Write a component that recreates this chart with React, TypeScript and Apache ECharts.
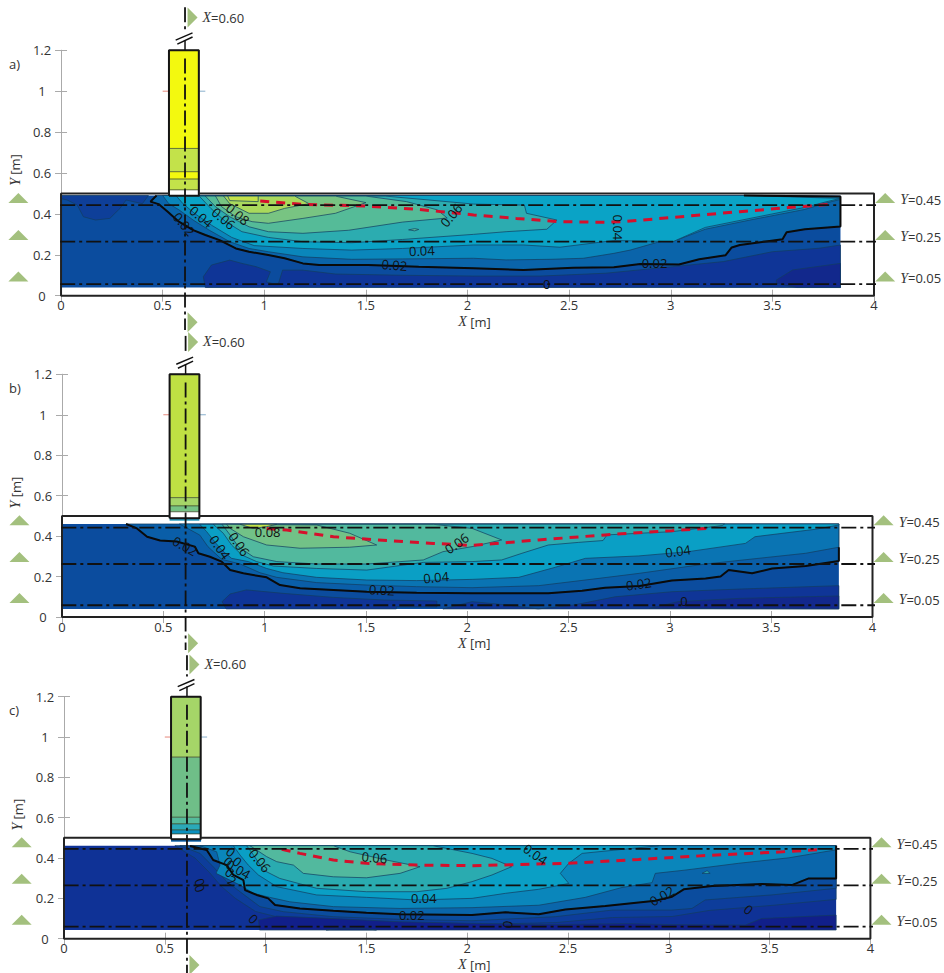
import React, { useEffect, useRef } from "react";
import * as echarts from "echarts";

type P = number[][];
const FONT = '"Open Sans", "Noto Sans", sans-serif';

// shared axis and section values
const xTicks = { min: 0, max: 4, interval: 0.5 };
const yTicks = { min: 0, max: 1.2, interval: 0.2 };
const sectionNames = ["0.45", "0.25", "0.05"];
const triLeftX = -0.21;
const triRightX = 4.055;
const triY = [0.478, 0.297, 0.094];
const triXUp = [0.647, 1.36];
const triXDown = [0.647, -0.13];
const breakA: P = [[0.564, 1.25], [0.647, 1.285]];
const breakB: P = [[0.572, 1.23], [0.647, 1.265]];
const breakStem: P = [[0.61, 1.2], [0.61, 1.25]];
const edgeMarkRed: P = [[0.5, 1], [0.53, 1]];
const edgeMarkBlue: P = [[0.68, 1], [0.71, 1]];
const tank: P = [[0.531, 0.5], [0, 0.5], [0, 0], [4, 0], [4, 0.5], [0.678, 0.5]];
const columnX = [0.531, 0.678];

// ---------- panel a ----------
const aDomain = [0, 3.835, 0.04, 0.49];
const aSections = [0.443, 0.264, 0.057];
const aColumnY = [1.2, 0.72, 0.606, 0.57, 0.517, 0.489];
const aColumnC = ["#f3f90f", "#c3e24a", "#f3f90f", "#c3e24a", "#ffffff"];
const aDarkTop: P = [[0, 0.49], [0.43, 0.49], [0.4, 0.45], [0.32, 0.468], [0.29, 0.427], [0.24, 0.378], [0.17, 0.37], [0.11, 0.386], [0.08, 0.443], [0.03, 0.468], [0, 0.475]];
const aDarkBottom: P = [[0.71, 0.04], [0.7, 0.093], [0.74, 0.15], [0.83, 0.174], [0.89, 0.158], [0.96, 0.142], [1.03, 0.117], [1.01, 0.068], [1.04, 0.06], [1.07, 0.06], [1.09, 0.125], [1.19, 0.125], [1.35, 0.106], [1.68, 0.1], [2.03, 0.096], [2.36, 0.096], [2.68, 0.11], [3.01, 0.142], [3.26, 0.167], [3.5, 0.215], [3.73, 0.232], [3.835, 0.248], [3.835, 0.04]];
const aDarkest: P = [[3.52, 0.077], [3.6, 0.126], [3.835, 0.158], [3.835, 0.04], [3.62, 0.04], [3.52, 0.06]];
const a002: P = [[0.47, 0.49], [0.44, 0.46], [0.48, 0.448], [0.525, 0.41], [0.58, 0.362], [0.65, 0.321], [0.71, 0.297], [0.78, 0.272], [0.86, 0.231], [0.925, 0.215], [1.02, 0.199], [1.1, 0.183], [1.19, 0.158], [1.27, 0.15], [1.51, 0.15], [1.76, 0.142], [2.03, 0.134], [2.275, 0.126], [2.52, 0.137], [2.72, 0.139], [2.85, 0.155], [3.04, 0.153], [3.14, 0.178], [3.27, 0.198], [3.3, 0.236], [3.34, 0.248], [3.55, 0.276], [3.57, 0.31], [3.66, 0.325], [3.835, 0.338], [3.835, 0.485], [3.36, 0.49]];
const aB: P = [[0.5, 0.49], [0.53, 0.45], [0.58, 0.42], [0.65, 0.37], [0.73, 0.32], [0.83, 0.264], [0.925, 0.231], [1.02, 0.215], [1.19, 0.19], [1.43, 0.178], [1.68, 0.18], [2.03, 0.183], [2.19, 0.175], [2.41, 0.178], [2.57, 0.183], [2.72, 0.207], [2.8, 0.223], [2.945, 0.264], [3.04, 0.276], [3.17, 0.325], [3.39, 0.37], [3.66, 0.422], [3.76, 0.452], [3.835, 0.471], [3.835, 0.485], [3.36, 0.49]];
const aC: P = [[0.565, 0.49], [0.6, 0.45], [0.66, 0.4], [0.74, 0.345], [0.84, 0.285], [0.95, 0.245], [1.19, 0.231], [1.43, 0.223], [1.68, 0.231], [2.03, 0.248], [2.275, 0.248], [2.455, 0.237], [2.72, 0.27], [3.01, 0.264], [3.17, 0.334], [3.39, 0.378], [3.66, 0.432], [3.76, 0.458], [3.835, 0.476], [3.36, 0.49]];
const aD: P = [[0.68, 0.487], [0.737, 0.427], [0.81, 0.362], [0.89, 0.313], [1.02, 0.285], [1.19, 0.264], [1.43, 0.259], [1.68, 0.275], [2.03, 0.3], [2.19, 0.313], [2.39, 0.325], [2.44, 0.37], [2.29, 0.403], [2.28, 0.443], [2.03, 0.448], [1.81, 0.468], [1.595, 0.487]];
const aE: P = [[0.71, 0.487], [0.76, 0.435], [0.83, 0.386], [0.925, 0.337], [1.02, 0.313], [1.19, 0.305], [1.415, 0.32], [1.68, 0.36], [1.9, 0.38], [1.85, 0.42], [1.7, 0.46], [1.5, 0.487]];
const aF: P = [[0.76, 0.487], [0.79, 0.435], [0.86, 0.386], [0.94, 0.362], [1.02, 0.354], [1.19, 0.378], [1.35, 0.403], [1.5, 0.455], [1.35, 0.487]];
const aG: P = [[0.8, 0.487], [0.83, 0.45], [0.925, 0.403], [1.02, 0.403], [1.1, 0.427], [1.22, 0.45], [1.15, 0.487]];
const aH: P = [[0.82, 0.487], [0.83, 0.465], [0.97, 0.46], [0.97, 0.487]];
const aIsland: P = [[1.71, 0.322], [1.74, 0.328], [1.76, 0.324], [1.74, 0.317]];
const aRed: P = [[0.98, 0.463], [1.19, 0.447], [1.51, 0.438], [1.76, 0.422], [2.03, 0.395], [2.24, 0.378], [2.45, 0.362], [2.68, 0.359], [2.765, 0.362], [3.01, 0.383], [3.34, 0.411], [3.58, 0.431], [3.78, 0.447]];
const aLabels: (string | number)[][] = [["0.02", 0.606, 0.35, -50], ["0.04", 0.69, 0.386, -40], ["0.06", 0.8, 0.378, -40], ["0.08", 0.87, 0.398, -40], ["0.06", 1.92, 0.394, 50], ["0.04", 1.775, 0.22, 3], ["0.02", 1.64, 0.15, -4], ["0.04", 2.74, 0.334, -90], ["0.02", 2.92, 0.162, 0], ["0", 2.39, 0.057, 0]];

// ---------- panel b ----------
const bDomain = [0, 3.834, 0.04, 0.46];
const bSections = [0.442, 0.262, 0.058];
const bColumnY = [1.2, 0.59, 0.549, 0.52, 0.488];
const bColumnC = ["#bfe043", "#a5d568", "#76c384", "#ffffff"];
const bStrip: P = [[0.531, 0.488], [0.678, 0.476]];
const bDark1: P = [[0.81, 0.04], [0.79, 0.076], [0.83, 0.114], [0.91, 0.134], [1.09, 0.117], [1.34, 0.097], [1.59, 0.084], [1.85, 0.079], [1.85, 0.05], [1.65, 0.05], [1.65, 0.04]];
const bDark2: P = [[1.88, 0.04], [2.024, 0.076], [2.19, 0.06], [2.35, 0.04]];
const bDark3: P = [[2.35, 0.04], [2.53, 0.06], [2.73, 0.1], [3.01, 0.125], [3.34, 0.138], [3.834, 0.155], [3.834, 0.04]];
const bDarkest: P = [[2.9, 0.043], [3.04, 0.076], [3.34, 0.092], [3.834, 0.104], [3.834, 0.04]];
const b002: P = [[0.316, 0.46], [0.37, 0.438], [0.42, 0.397], [0.484, 0.378], [0.566, 0.373], [0.656, 0.348], [0.673, 0.315], [0.73, 0.298], [0.788, 0.274], [0.83, 0.232], [0.895, 0.216], [1.01, 0.196], [1.076, 0.158], [1.175, 0.142], [1.34, 0.134], [1.504, 0.125], [1.75, 0.12], [2.024, 0.117], [2.19, 0.117], [2.4, 0.117], [2.567, 0.13], [2.68, 0.145], [2.85, 0.153], [3.01, 0.18], [3.176, 0.19], [3.25, 0.2], [3.29, 0.232], [3.406, 0.216], [3.505, 0.24], [3.67, 0.252], [3.834, 0.277], [3.834, 0.345]];
const bFillA: P = [...b002, [3.834, 0.46]];
const bB: P = [[0.58, 0.46], [0.68, 0.405], [0.72, 0.348], [0.747, 0.323], [0.788, 0.285], [0.88, 0.262], [0.977, 0.219], [1.06, 0.196], [1.257, 0.17], [1.504, 0.158], [1.75, 0.15], [2.024, 0.145], [2.353, 0.155], [2.65, 0.191], [2.85, 0.216], [3.176, 0.262], [3.67, 0.315], [3.834, 0.345], [3.834, 0.46]];
const bC: P = [[0.68, 0.458], [0.714, 0.422], [0.747, 0.38], [0.788, 0.331], [0.837, 0.29], [0.92, 0.274], [1.01, 0.24], [1.09, 0.219], [1.257, 0.196], [1.504, 0.183], [1.75, 0.18], [2.024, 0.186], [2.254, 0.196], [2.435, 0.246], [2.583, 0.29], [2.847, 0.302], [3.09, 0.323], [3.373, 0.364], [3.42, 0.397], [3.72, 0.434], [3.834, 0.455], [3.834, 0.46]];
const bD: P = [[0.747, 0.458], [0.796, 0.414], [0.837, 0.356], [0.887, 0.307], [0.96, 0.274], [1.043, 0.252], [1.257, 0.24], [1.504, 0.232], [1.783, 0.27], [2.024, 0.274], [2.17, 0.282], [2.27, 0.315], [2.4, 0.356], [2.55, 0.369], [2.67, 0.378], [2.69, 0.406], [3.01, 0.422], [3.258, 0.452], [3.27, 0.46]];
const bE: P = [[0.79, 0.458], [0.83, 0.405], [0.87, 0.348], [0.944, 0.298], [1.06, 0.274], [1.257, 0.262], [1.504, 0.262], [1.783, 0.282], [1.88, 0.323], [2.024, 0.348], [2.17, 0.381], [2.024, 0.438], [1.835, 0.458]];
const bF: P = [[0.813, 0.458], [0.83, 0.438], [0.895, 0.397], [1.01, 0.356], [1.175, 0.34], [1.42, 0.345], [1.553, 0.356], [1.42, 0.414], [1.257, 0.455]];
const bG: P = [[0.88, 0.458], [0.944, 0.438], [1.01, 0.447], [1.06, 0.458]];
const bRed: P = [[1.01, 0.438], [1.11, 0.43], [1.34, 0.397], [1.553, 0.381], [1.833, 0.364], [2.024, 0.354], [2.353, 0.381], [2.68, 0.406], [3.01, 0.427], [3.21, 0.44]];
const bLabels: (string | number)[][] = [["0.02", 0.607, 0.351, -30], ["0.04", 0.78, 0.345, -55], ["0.06", 0.875, 0.36, -55], ["0.08", 1.015, 0.422, 0], ["0.06", 1.948, 0.364, 35], ["0.04", 1.846, 0.196, 5], ["0.02", 1.578, 0.134, -3], ["0.04", 3.04, 0.326, 8], ["0.02", 2.846, 0.163, 8], ["0", 3.07, 0.08, 0]];

// ---------- panel c ----------
const cDomain = [0, 3.83, 0.043, 0.461];
const cSections = [0.445, 0.264, 0.06];
const cColumnY = [1.2, 0.9, 0.602, 0.569, 0.539, 0.519, 0.493];
const cColumnC = ["#a5d568", "#6fbe88", "#55bb9c", "#2aa9b8", "#0a90c0", "#ffffff"];
const cStrip: P = [[0.531, 0.493], [0.68, 0.481]];
const cP1: P = [[0.55, 0.461], [0.65, 0.4], [0.72, 0.33], [0.78, 0.26], [0.85, 0.2], [0.95, 0.135], [1.05, 0.11], [1.3, 0.09], [1.7, 0.075], [2.024, 0.07], [2.44, 0.08], [2.72, 0.105], [3.016, 0.11], [3.2, 0.14], [3.51, 0.165], [3.83, 0.195], [3.83, 0.461]];
const cLow1: P = [[0.97, 0.043], [0.964, 0.093], [1.055, 0.112], [1.336, 0.1], [1.667, 0.084], [2.024, 0.076], [2.4, 0.07], [2.8, 0.075], [3.0, 0.07], [3.38, 0.068], [3.46, 0.1], [3.83, 0.117], [3.83, 0.043]];
const cLow2: P = [[1.3, 0.043], [1.36, 0.052], [1.5, 0.05], [1.55, 0.043]];
const cLx: P = [[0.575, 0.461], [0.675, 0.423], [0.74, 0.357], [0.807, 0.283], [0.873, 0.233], [0.972, 0.159], [1.088, 0.134], [1.336, 0.109], [1.667, 0.096], [2.024, 0.089], [2.437, 0.109], [2.72, 0.142], [3.016, 0.142], [3.115, 0.15], [3.18, 0.192], [3.51, 0.217], [3.83, 0.25], [3.83, 0.461]];
const c002: P = [[0.625, 0.46], [0.708, 0.44], [0.74, 0.39], [0.807, 0.365], [0.84, 0.316], [0.89, 0.29], [0.898, 0.241], [0.956, 0.217], [1.013, 0.2], [1.047, 0.167], [1.17, 0.15], [1.336, 0.139], [1.5, 0.129], [1.667, 0.121], [2.024, 0.117], [2.19, 0.131], [2.355, 0.121], [2.487, 0.145], [2.685, 0.162], [2.933, 0.188], [3.016, 0.208], [3.074, 0.245], [3.215, 0.261], [3.463, 0.271], [3.61, 0.266], [3.694, 0.299], [3.83, 0.299], [3.83, 0.461]];
const cB: P = [[0.675, 0.461], [0.757, 0.431], [0.774, 0.365], [0.754, 0.324], [0.873, 0.266], [0.94, 0.225], [1.02, 0.205], [1.12, 0.183], [1.336, 0.159], [1.667, 0.15], [2.024, 0.154], [2.355, 0.166], [2.586, 0.205], [2.768, 0.254], [2.917, 0.278], [2.933, 0.324], [3.08, 0.34], [3.347, 0.374], [3.595, 0.401], [3.826, 0.44], [3.83, 0.461]];
const cC: P = [[0.84, 0.461], [0.873, 0.415], [0.914, 0.365], [0.964, 0.316], [1.055, 0.258], [1.253, 0.217], [1.5, 0.205], [1.75, 0.192], [2.024, 0.2], [2.19, 0.225], [2.355, 0.245], [2.504, 0.274], [2.462, 0.324], [2.504, 0.374], [2.57, 0.423], [2.95, 0.461]];
const cD: P = [[0.906, 0.461], [0.94, 0.415], [0.989, 0.34], [1.07, 0.299], [1.253, 0.25], [1.5, 0.233], [1.75, 0.233], [1.9, 0.25], [2.024, 0.283], [2.123, 0.316], [2.22, 0.357], [2.123, 0.398], [2.024, 0.423], [1.83, 0.461]];
const cE: P = [[0.923, 0.461], [1.005, 0.407], [1.055, 0.382], [1.138, 0.365], [1.187, 0.324], [1.336, 0.307], [1.5, 0.302], [1.667, 0.324], [1.766, 0.357], [1.6, 0.39], [1.419, 0.431], [1.336, 0.461]];
const cIsland: P = [[3.165, 0.324], [3.19, 0.337], [3.205, 0.324]];
const cRed: P = [[1.08, 0.443], [1.17, 0.423], [1.336, 0.39], [1.5, 0.374], [1.75, 0.365], [2.024, 0.362], [2.504, 0.374], [2.85, 0.393], [3.18, 0.412], [3.512, 0.428], [3.77, 0.443]];
const cLabels: (string | number)[][] = [["0.06", 0.972, 0.387, -50], ["0.06", 1.54, 0.403, -5], ["0.04", 1.785, 0.2, 0], ["0.02", 1.725, 0.12, 0], ["0", 0.94, 0.098, -45], ["0", 0.675, 0.28, -70], ["0", 0.675, 0.25, -70], ["0", 0.827, 0.431, -40], ["0", 0.815, 0.382, -40], ["0", 0.86, 0.382, -40], ["0.04", 0.865, 0.344, -30], ["0", 0.823, 0.329, -40], ["2", 0.835, 0.288, -30], ["0.04", 2.338, 0.418, -35], ["0.02", 2.966, 0.212, 30], ["0", 2.2, 0.071, 80], ["0", 3.396, 0.145, -40]];

const panels = [
  {
    tag: "a)", grid: { left: 58, top: 50.3, width: 816, height: 245.4 }, tagPos: [9, 57],
    domain: aDomain, base: "#0b4c9e", sections: aSections, columnY: aColumnY, columnC: aColumnC, strip: null as P | null, stripColor: "",
    bands: [[aDarkTop, "#0e3f99"], [aDarkBottom, "#0f3597"], [aDarkest, "#12288c"], [a002, "#0a64aa"], [aB, "#0a86bb"], [aC, "#0aa3c6"], [aD, "#2cacb0"], [aE, "#55bb98"], [aF, "#78c482"], [aG, "#a9d95c"], [aH, "#c3e24a"], [aIsland, "#55bb98"]] as [P, string][],
    contour: a002, red: aRed, labels: aLabels, sectionY: [1.41, -0.168],
  },
  {
    tag: "b)", grid: { left: 62, top: 374.3, width: 810.5, height: 242.7 }, tagPos: [9, 381],
    domain: bDomain, base: "#0b4c9e", sections: bSections, columnY: bColumnY, columnC: bColumnC, strip: bStrip, stripColor: "#2a9fc0",
    bands: [[bDark1, "#0f3597"], [bDark2, "#0f3597"], [bDark3, "#0f3597"], [bDarkest, "#12288c"], [bFillA, "#0a5ea8"], [bB, "#0a74b3"], [bC, "#0a9fc5"], [bD, "#2cacb0"], [bE, "#52b99e"], [bF, "#72c287"], [bG, "#c3e24a"]] as [P, string][],
    contour: b002, red: bRed, labels: bLabels, sectionY: [1.39, -0.163],
  },
  {
    tag: "c)", grid: { left: 64, top: 696.7, width: 806.4, height: 242 }, tagPos: [9, 703],
    domain: cDomain, base: "#0f3296", sections: cSections, columnY: cColumnY, columnC: cColumnC, strip: cStrip, stripColor: "#0a5fa8",
    bands: [[cP1, "#0d3d9b"], [cLow1, "#111f8a"], [cLow2, "#0d1a80"], [cLx, "#0b4c9e"], [c002, "#0a66ab"], [cB, "#0a86bb"], [cC, "#0a9fc5"], [cD, "#2aabb0"], [cE, "#52b99e"], [cIsland, "#2aabb0"]] as [P, string][],
    contour: c002, red: cRed, labels: cLabels, sectionY: [1.405, -0.17],
  },
];

const DASHDOT = [15, 4, 3, 4];
const lineBase = { type: "line", symbol: "none", silent: true, clip: false, animation: false };
const textColor = "#333";
const rich = { i: { fontFamily: '"Liberation Serif", serif', fontStyle: "italic", fontSize: 14, color: textColor }, n: { fontFamily: FONT, fontSize: 13, color: textColor } };

function buildOption() {
  const grid: any[] = [], xAxis: any[] = [], yAxis: any[] = [], series: any[] = [], graphic: any[] = [];
  panels.forEach((p, i) => {
    grid.push({ ...p.grid, show: false, containLabel: false });
    const xi = i * 2, yi = i * 2;
    const grey = { lineStyle: { color: "#aaa", width: 1 } };
    xAxis.push({
      type: "value", gridIndex: i, ...xTicks, position: "bottom",
      name: "{i|X}{n| [m]}", nameLocation: "middle", nameGap: 19,
      nameTextStyle: { rich, padding: [0, 0, 0, 14] },
      axisLine: { show: true, ...grey }, splitLine: { show: false },
      axisTick: { show: true, inside: true, length: 6, ...grey },
      axisLabel: { show: true, color: textColor, fontFamily: FONT, fontSize: 13, margin: 3 },
    });
    xAxis.push({
      type: "value", gridIndex: i, ...xTicks, position: "top",
      axisLine: { show: true, ...grey }, splitLine: { show: false },
      axisTick: { show: true, inside: true, length: 6, ...grey }, axisLabel: { show: false },
    });
    yAxis.push({
      type: "value", gridIndex: i, ...yTicks, position: "left",
      name: "{i|Y}{n| [m]}", nameLocation: "middle", nameGap: 36, nameRotate: 90,
      nameTextStyle: { rich, padding: [0, 0, 0, 6] },
      axisLine: { show: true, ...grey }, splitLine: { show: false },
      axisTick: { show: true, inside: true, length: 6, ...grey },
      axisLabel: { show: true, color: textColor, fontFamily: FONT, fontSize: 13, margin: 19, align: "center" },
    });
    yAxis.push({
      type: "value", gridIndex: i, ...yTicks, position: "right",
      axisLine: { show: true, ...grey }, splitLine: { show: false },
      axisTick: { show: true, inside: true, length: 6, ...grey }, axisLabel: { show: false },
    });

    const axes = { xAxisIndex: xi, yAxisIndex: yi };
    const [dx0, dx1, dy0, dy1] = p.domain;
    const basePoly: P = [[dx0, dy0], [dx1, dy0], [dx1, dy1], [dx0, dy1]];
    const bands: [P, string][] = [[basePoly, p.base], ...p.bands];

    // filled contour bands
    series.push({
      type: "custom", ...axes, z: 3, silent: true, clip: false,
      data: bands.map((_, k) => [k, 0]), encode: { x: 0, y: 1 },
      renderItem: (params: any, api: any) => {
        const [pts, color] = bands[params.dataIndex];
        return {
          type: "polygon",
          shape: { points: pts.map((q) => api.coord(q)) },
          style: { fill: color, stroke: "#123c5e", lineWidth: params.dataIndex === 0 ? 0 : 0.7 },
        };
      },
    });

    // inlet column segments
    series.push({
      type: "custom", ...axes, z: 4, silent: true, clip: false,
      data: p.columnC.map((_, k) => [k, 0]), encode: { x: 0, y: 1 },
      renderItem: (params: any, api: any) => {
        const k = params.dataIndex;
        const a = api.coord([columnX[0], p.columnY[k]]);
        const b = api.coord([columnX[1], p.columnY[k + 1]]);
        return {
          type: "rect",
          shape: { x: a[0], y: a[1], width: b[0] - a[0], height: b[1] - a[1] },
          style: { fill: p.columnC[k], stroke: "#3c4a2a", lineWidth: 0.6 },
        };
      },
    });
    if (p.strip) {
      const s = p.strip;
      series.push({
        type: "custom", ...axes, z: 4, silent: true, clip: false,
        data: [[0, 0]], encode: { x: 0, y: 1 },
        renderItem: (_: any, api: any) => {
          const a = api.coord(s[0]), b = api.coord(s[1]);
          return { type: "rect", shape: { x: a[0], y: a[1], width: b[0] - a[0], height: b[1] - a[1] }, style: { fill: p.stripColor } };
        },
      });
    }

    const yMin = p.columnY[p.columnY.length - 1];
    const colOutline: P = [[columnX[0], yMin], [columnX[0], 1.2], [columnX[1], 1.2], [columnX[1], yMin], [columnX[0], yMin]];
    const black = { color: "#151515", width: 2 };
    series.push({ ...lineBase, ...axes, z: 6, data: colOutline, lineStyle: black });
    series.push({ ...lineBase, ...axes, z: 6, data: tank, lineStyle: { color: "#222", width: 2 } });
    series.push({ ...lineBase, ...axes, z: 6, data: p.contour, lineStyle: { color: "#0a0a0a", width: 2 } });
    series.push({ ...lineBase, ...axes, z: 7, data: p.red, lineStyle: { color: "#d5102c", width: 3, type: [9, 7] } });
    series.push({ ...lineBase, ...axes, z: 5, data: edgeMarkRed, lineStyle: { color: "#e06a5a", width: 0.8 } });
    series.push({ ...lineBase, ...axes, z: 5, data: edgeMarkBlue, lineStyle: { color: "#6a9ac0", width: 0.8 } });

    // section lines
    const cut = { color: "#111", width: 1.8, type: DASHDOT };
    p.sections.forEach((y) => {
      series.push({ ...lineBase, ...axes, z: 8, data: [[-0.26, y], [4.11, y]], lineStyle: cut });
    });
    series.push({ ...lineBase, ...axes, z: 8, data: [[0.61, p.sectionY[0]], [0.61, 1.3]], lineStyle: cut });
    series.push({ ...lineBase, ...axes, z: 8, data: [[0.61, 1.16], [0.61, p.sectionY[1]]], lineStyle: cut });
    [breakA, breakB, breakStem].forEach((d) => {
      series.push({ ...lineBase, ...axes, z: 8, data: d, lineStyle: { color: "#111", width: 1.5 } });
    });

    // contour labels
    series.push({
      type: "custom", ...axes, z: 9, silent: true, clip: false,
      data: p.labels.map((l) => [l[1], l[2]]), encode: { x: 0, y: 1 },
      renderItem: (params: any, api: any) => {
        const l = p.labels[params.dataIndex];
        const c = api.coord([l[1], l[2]]);
        return {
          type: "text", x: c[0], y: c[1], rotation: ((l[3] as number) * Math.PI) / 180,
          style: { text: String(l[0]), fill: "#111", font: `13px ${FONT}`, align: "center", verticalAlign: "middle" },
        };
      },
    });

    // section markers
    const triColor = "#a3c07e";
    series.push({
      type: "scatter", ...axes, z: 10, silent: true, clip: false, symbol: "triangle", symbolSize: [20, 10],
      itemStyle: { color: triColor, opacity: 1 },
      data: triY.map((y) => [triLeftX, y]),
    });
    series.push({
      type: "scatter", ...axes, z: 10, silent: true, clip: false, symbol: "triangle", symbolSize: [20, 10],
      itemStyle: { color: triColor, opacity: 1 },
      data: triY.map((y, k) => ({ value: [triRightX, y], name: sectionNames[k] })),
      label: {
        show: true, position: "right", distance: 5, offset: [0, 2],
        formatter: (o: any) => `{i|Y}{n|=${o.name}}`, rich,
      },
    });
    series.push({
      type: "scatter", ...axes, z: 10, silent: true, clip: false, symbol: "triangle", symbolSize: [20, 10], symbolRotate: -90,
      itemStyle: { color: triColor, opacity: 1 },
      data: [{ value: triXUp, name: "0.60", label: { show: true } }, { value: triXDown, name: "", label: { show: false } }],
      label: {
        position: "right", distance: 5,
        formatter: (o: any) => `{i|X}{n|=${o.name}}`, rich,
      },
    });

    graphic.push({ type: "text", x: p.tagPos[0], y: p.tagPos[1], style: { text: p.tag, fill: textColor, font: `13px ${FONT}` } });
  });
  return { animation: false, backgroundColor: "#fff", grid, xAxis, yAxis, series, graphic };
}

export default function App() {
  const ref = useRef<HTMLDivElement>(null);
  useEffect(() => {
    document.body.style.margin = "0";
    const chart = echarts.init(ref.current!, null, { renderer: "svg", width: 944, height: 973 });
    chart.setOption(buildOption() as any);
    return () => chart.dispose();
  }, []);
  return <div ref={ref} style={{ width: 944, height: 973 }} />;
}
